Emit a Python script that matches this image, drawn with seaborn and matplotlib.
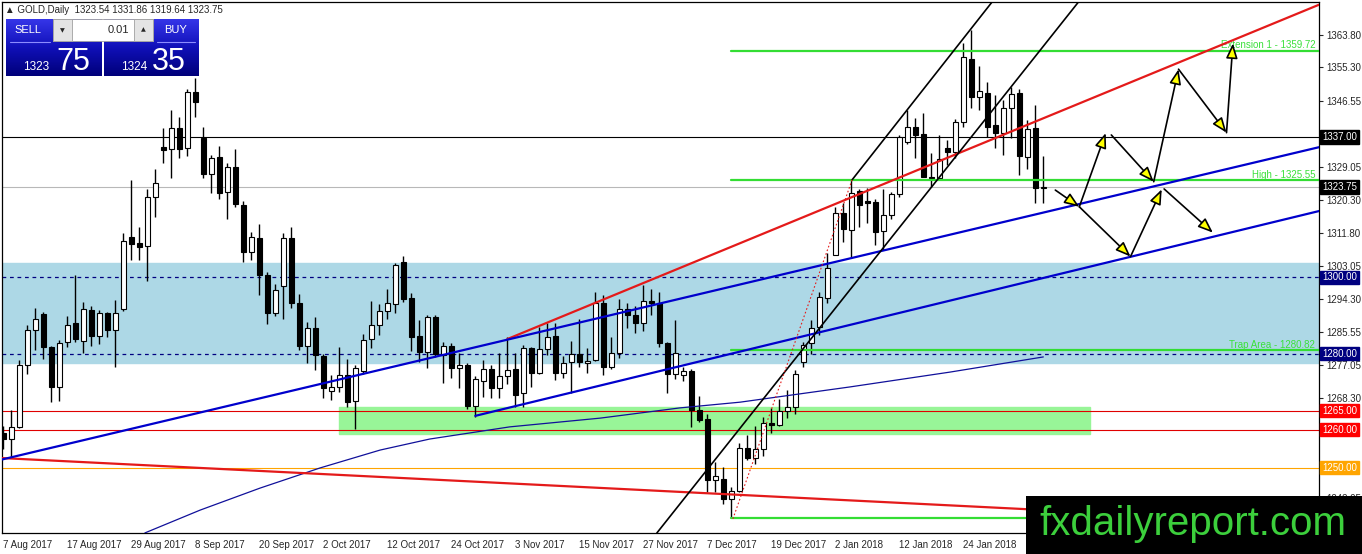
import matplotlib
matplotlib.use("Agg")
import matplotlib.pyplot as plt
from matplotlib.colors import LinearSegmentedColormap
from matplotlib.patches import Rectangle
import numpy as np
import pandas as pd
import seaborn as sns

# GOLD daily bars, 7 Aug 2017 onwards
opens = [1259.0, 1257.6, 1260.7, 1277.0, 1286.2, 1290.4, 1281.7, 1271.2, 1283.0, 1288.0,
         1283.3, 1291.4, 1284.6, 1290.7, 1286.2, 1291.7, 1310.7, 1309.1, 1308.3, 1321.2,
         1334.3, 1333.8, 1339.3, 1334.1, 1348.8, 1336.7, 1327.2, 1331.7, 1322.5, 1329.1,
         1319.1, 1306.7, 1310.4, 1300.7, 1290.7, 1297.8, 1310.4, 1293.3, 1282.0, 1286.7,
         1279.3, 1270.1, 1271.2, 1274.3, 1267.5, 1275.4, 1283.8, 1287.5, 1291.2, 1293.0,
         1304.1, 1294.6, 1284.6, 1280.4, 1289.6, 1279.6, 1282.0, 1276.2, 1277.0, 1266.2,
         1272.8, 1275.9, 1270.9, 1274.1, 1275.9, 1269.6, 1281.5, 1274.9, 1281.2, 1284.6,
         1274.9, 1277.8, 1279.9, 1277.5, 1278.3, 1293.3, 1276.5, 1280.1, 1291.7, 1290.1,
         1288.0, 1293.8, 1293.3, 1282.8, 1274.6, 1274.3, 1275.4, 1265.1, 1262.8, 1246.7,
         1247.0, 1241.7, 1243.8, 1255.1, 1252.5, 1254.9, 1261.7, 1261.2, 1264.9, 1265.9,
         1277.8, 1282.8, 1287.0, 1294.6, 1305.9, 1317.0, 1312.5, 1322.8, 1320.1, 1319.9,
         1312.2, 1316.5, 1322.0, 1335.7, 1339.6, 1337.8, 1326.4, 1326.2, 1334.1, 1333.0,
         1340.9, 1357.5, 1347.5, 1348.5, 1340.1, 1338.0, 1344.6, 1348.5, 1331.7, 1339.3,
         1323.54]
highs = [1261.0, 1265.1, 1278.3, 1287.5, 1292.0, 1290.8, 1282.0, 1283.6, 1289.9, 1300.7,
         1293.6, 1292.5, 1291.5, 1291.0, 1294.1, 1311.7, 1325.7, 1313.3, 1323.3, 1328.5,
         1339.3, 1344.1, 1342.2, 1349.6, 1352.5, 1339.6, 1332.2, 1334.6, 1330.1, 1333.8,
         1320.0, 1312.0, 1314.0, 1301.5, 1298.3, 1311.7, 1313.3, 1295.7, 1288.3, 1289.6,
         1280.0, 1274.3, 1281.7, 1278.6, 1277.0, 1285.1, 1293.8, 1293.0, 1297.0, 1303.8,
         1305.7, 1296.0, 1288.8, 1290.2, 1290.2, 1283.0, 1282.8, 1280.1, 1277.5, 1274.0,
         1278.3, 1277.0, 1280.1, 1284.3, 1280.1, 1282.2, 1281.6, 1287.0, 1288.0, 1288.0,
         1279.3, 1283.3, 1289.1, 1281.5, 1296.2, 1295.5, 1284.3, 1294.3, 1293.3, 1292.5,
         1298.0, 1297.0, 1296.2, 1283.0, 1288.8, 1276.5, 1276.0, 1268.8, 1264.1, 1251.5,
         1250.1, 1245.0, 1256.5, 1258.5, 1261.0, 1263.3, 1265.7, 1268.0, 1270.4, 1275.7,
         1283.0, 1288.8, 1296.2, 1306.4, 1318.6, 1319.6, 1325.7, 1323.3, 1323.5, 1320.6,
         1323.3, 1322.6, 1337.5, 1344.1, 1342.0, 1343.4, 1332.8, 1337.5, 1336.3, 1341.7,
         1361.7, 1365.1, 1355.7, 1351.4, 1348.0, 1346.7, 1350.1, 1349.6, 1341.4, 1345.4,
         1331.86]
lows = [1255.0, 1252.5, 1260.4, 1274.6, 1281.0, 1278.6, 1267.3, 1267.5, 1281.7, 1283.0,
        1280.1, 1282.0, 1282.5, 1284.3, 1276.5, 1291.2, 1304.6, 1304.6, 1299.1, 1315.9,
        1330.1, 1326.2, 1331.4, 1332.0, 1342.2, 1326.2, 1322.2, 1320.7, 1315.4, 1318.5,
        1304.1, 1304.6, 1295.4, 1287.8, 1290.0, 1289.1, 1292.0, 1281.0, 1277.5, 1275.7,
        1268.3, 1267.8, 1269.9, 1266.0, 1260.1, 1274.6, 1281.5, 1285.0, 1289.0, 1290.7,
        1293.5, 1280.7, 1277.8, 1276.2, 1279.0, 1272.2, 1273.6, 1270.9, 1265.4, 1263.3,
        1268.6, 1268.3, 1268.3, 1272.0, 1266.0, 1266.0, 1271.2, 1274.5, 1279.6, 1273.0,
        1273.6, 1269.6, 1276.5, 1275.0, 1278.0, 1274.3, 1276.0, 1278.8, 1286.7, 1285.4,
        1286.0, 1290.1, 1281.7, 1269.6, 1273.3, 1272.8, 1260.7, 1262.0, 1243.6, 1243.6,
        1240.5, 1236.7, 1243.5, 1252.0, 1251.0, 1253.0, 1259.0, 1260.9, 1263.0, 1264.0,
        1276.5, 1280.0, 1285.0, 1293.3, 1305.9, 1309.3, 1305.4, 1313.3, 1314.4, 1308.6,
        1307.3, 1315.4, 1321.2, 1335.0, 1331.4, 1326.4, 1323.8, 1325.7, 1329.5, 1331.5,
        1339.6, 1344.6, 1344.1, 1337.0, 1334.1, 1332.2, 1336.7, 1327.0, 1328.5, 1319.6,
        1319.64]
closes = [1257.5, 1260.7, 1277.0, 1286.2, 1289.1, 1281.7, 1271.2, 1282.8, 1287.5, 1283.8,
          1291.7, 1284.6, 1290.7, 1286.2, 1290.7, 1309.6, 1308.8, 1308.0, 1321.2, 1324.9,
          1333.5, 1339.3, 1333.8, 1348.8, 1346.2, 1327.2, 1331.4, 1322.2, 1329.1, 1319.3,
          1306.7, 1310.7, 1300.7, 1290.7, 1296.7, 1310.4, 1293.3, 1282.0, 1286.7, 1279.6,
          1270.9, 1271.2, 1274.3, 1267.3, 1276.2, 1283.6, 1287.5, 1291.2, 1293.3, 1303.3,
          1294.3, 1284.3, 1280.4, 1289.6, 1279.9, 1282.0, 1276.2, 1277.0, 1266.2, 1273.3,
          1275.9, 1270.9, 1274.1, 1275.7, 1269.1, 1281.5, 1274.9, 1281.2, 1284.3, 1274.9,
          1277.5, 1279.9, 1277.8, 1278.0, 1293.3, 1276.5, 1280.1, 1291.7, 1290.1, 1288.0,
          1293.8, 1293.3, 1282.8, 1274.6, 1280.1, 1275.4, 1265.1, 1262.5, 1246.7, 1247.8,
          1241.7, 1243.8, 1255.1, 1252.5, 1254.9, 1261.7, 1261.2, 1264.9, 1265.9, 1274.6,
          1282.2, 1286.7, 1294.9, 1302.5, 1317.0, 1312.8, 1322.2, 1319.1, 1319.6, 1312.0,
          1316.5, 1322.0, 1337.0, 1339.6, 1337.5, 1326.4, 1326.2, 1331.2, 1333.0, 1340.9,
          1358.0, 1347.5, 1349.1, 1339.6, 1338.0, 1344.6, 1348.3, 1332.0, 1339.1, 1323.6,
          1323.75]

date_labels = ["7 Aug 2017", "17 Aug 2017", "29 Aug 2017", "8 Sep 2017", "20 Sep 2017",
               "2 Oct 2017", "12 Oct 2017", "24 Oct 2017", "3 Nov 2017", "15 Nov 2017",
               "27 Nov 2017", "7 Dec 2017", "19 Dec 2017", "2 Jan 2018", "12 Jan 2018",
               "24 Jan 2018"]
date_bars = [0, 8, 16, 24, 32, 40, 48, 56, 64, 72, 80, 88, 96, 104, 112, 120]

# thin navy moving average
ma_bars = [17.7, 24.6, 32.1, 39.6, 47.1, 53.3, 63.3, 74.6, 84.6, 92.1, 105.8, 118.3, 130.0]
ma_vals = [1232.8, 1238.8, 1244.6, 1249.9, 1254.6, 1257.5, 1260.7, 1263.0, 1265.7, 1267.2,
           1271.2, 1275.1, 1279.1]

price_ticks = [1363.80, 1355.30, 1346.55, 1337.80, 1329.05, 1320.30, 1311.80, 1303.05,
               1294.30, 1285.55, 1277.05, 1268.30, 1259.55, 1250.80, 1242.05]
# tick labels that sit under a price tag in the reference
hidden_ticks = [1337.80, 1259.55, 1250.80]

# horizontal levels and drawn objects
zone_lo, zone_hi = 1277.6, 1303.8
box_bars, box_lo, box_hi = [42.0, 135.8], 1258.8, 1266.0
fib_start = 91.0
fib_levels = [1359.72, 1325.55, 1280.82, 1236.6]
fib_names = ["Extension 1 - 1359.72", "High - 1325.55", "Trap Area - 1280.82", ""]

red_up = ([63.0, 164.5], [1283.8, 1371.8])
red_down = ([-0.2, 164.5], [1252.5, 1235.2])
blue_a = ([-0.2, 164.5], [1252.1, 1334.3])
blue_b = ([59.0, 164.5], [1263.6, 1317.5])
black_lo = ([81.7, 134.4], [1232.8, 1372.5])
black_hi = ([106.1, 123.6], [1325.7, 1372.5])
fib_trend = ([91.2, 106.1], [1236.5, 1325.7])

# forecast path (start -> end)
arrows = [((131.5, 1323.0), (134.5, 1318.6)),
          ((134.5, 1318.6), (137.8, 1338.0)),
          ((138.5, 1337.5), (143.8, 1325.2)),
          ((143.8, 1325.2), (146.9, 1354.8)),
          ((146.9, 1354.8), (152.9, 1338.1)),
          ((152.9, 1338.1), (153.7, 1361.6)),
          ((134.5, 1318.6), (140.9, 1305.5)),
          ((140.9, 1305.5), (144.8, 1323.2)),
          ((145.1, 1323.3), (151.2, 1311.8))]

tags = [(1337.00, "#000000"), (1323.75, "#000000"), (1300.00, "#000080"),
        (1280.00, "#000080"), (1265.00, "#ff0000"), (1260.00, "#ff0000"),
        (1250.00, "#ffa500")]

sns.set_style("white")
plt.rcParams["font.family"] = ["Liberation Sans", "DejaVu Sans"]

df = pd.DataFrame({"o": opens, "h": highs, "l": lows, "c": closes})
df["bar"] = np.arange(len(df))

W, H = 1362, 554
fig = plt.figure(figsize=(W / 100, H / 100), dpi=100)
ax = fig.add_axes([2 / W, 21 / H, 1317 / W, 531 / H])
ax.set_xlim(-0.1625, 164.46)
ax.set_ylim(1232.78, 1372.48)

# background zones
ax.axhspan(zone_lo, zone_hi, color="#add8e6", zorder=0)
ax.add_patch(Rectangle((box_bars[0], box_lo), box_bars[1] - box_bars[0], box_hi - box_lo,
                       color="#98f598", zorder=0.5))

ax.axhline(1300, color="#000080", lw=0.9, ls=(0, (3, 3)), zorder=1)
ax.axhline(1280, color="#000080", lw=0.9, ls=(0, (3, 3)), zorder=1)
ax.axhline(1265, color="#e00000", lw=0.8, zorder=1)
ax.axhline(1260, color="#e00000", lw=0.8, zorder=1)
ax.axhline(1250, color="#ffa500", lw=0.8, zorder=1)
ax.axhline(1337, color="black", lw=0.8, zorder=1)
ax.axhline(1323.75, color="#b8b8b8", lw=0.8, zorder=1)

# candles
up = df[df.c >= df.o]
dn = df[df.c < df.o]
ax.vlines(df.bar, df.l, df.h, color="black", lw=1.0, zorder=2)
ax.bar(up.bar, (up.c - up.o).clip(lower=0.15), bottom=up.o, width=0.6,
       color="white", edgecolor="black", lw=0.8, zorder=3)
ax.bar(dn.bar, (dn.o - dn.c).clip(lower=0.15), bottom=dn.c, width=0.6,
       color="black", edgecolor="black", lw=0.8, zorder=3)

sns.lineplot(x=ma_bars, y=ma_vals, ax=ax, color="#10109a", lw=0.9, zorder=4)

# fibo levels
for lev, name in zip(fib_levels, fib_names):
    ax.plot([fib_start, 164.5], [lev, lev], color="#33dd33", lw=1.6, zorder=4)
    if name:
        ax.text(164.0, lev + 0.2, name, ha="right", va="bottom", fontsize=7,
                color="#3ae03a", zorder=5)

# trend lines
for seg, col, lw in [(red_up, "#e41a1a", 1.6), (red_down, "#e41a1a", 1.6),
                     (blue_a, "#0000cc", 1.6), (blue_b, "#0000cc", 1.6),
                     (black_lo, "black", 1.2), (black_hi, "black", 1.2)]:
    sns.lineplot(x=seg[0], y=seg[1], ax=ax, color=col, lw=lw, zorder=5)
ax.plot(fib_trend[0], fib_trend[1], color="#e41a1a", lw=0.8, ls=(0, (1.5, 2)), zorder=5)

for (x0, y0), (x1, y1) in arrows:
    ax.annotate("", xy=(x1, y1), xytext=(x0, y0), zorder=6,
                arrowprops=dict(arrowstyle="-|>,head_length=0.9,head_width=0.35",
                                fc="#ffff00", ec="black", lw=1.2,
                                shrinkA=0, shrinkB=0, mutation_scale=10))

# axes
for s in ax.spines.values():
    s.set_color("black")
    s.set_linewidth(0.9)
ax.yaxis.tick_right()
ax.set_yticks(price_ticks)
ax.set_yticklabels(["" if p in hidden_ticks else f"{p:.2f}" for p in price_ticks])
ax.set_xticks(date_bars)
ax.set_xticklabels(date_labels, ha="left")
ax.tick_params(axis="y", direction="out", length=3, width=0.8, pad=2, labelsize=7)
ax.tick_params(axis="x", direction="out", length=4, width=0.8, pad=1, labelsize=7)
ax.set_xlabel("")
ax.set_ylabel("")

ytr = ax.get_yaxis_transform()
for p, col in tags:
    ax.text(1 + 3 / 1317, p, f"{p:.2f}", transform=ytr, ha="left", va="center",
            fontsize=7, color="white", clip_on=False, zorder=7,
            bbox=dict(boxstyle="square,pad=0.2", fc=col, ec=col))

# overlay in pixel coordinates: title, trade panel, watermark
pa = fig.add_axes([0, 0, 1, 1], zorder=10)
pa.axis("off")
pa.text(5, 10, "▲ GOLD,Daily  1323.54 1331.86 1319.64 1323.75", fontsize=7,
        va="center", ha="left")

grad = np.linspace(0, 1, 64).reshape(-1, 1)
cmap = LinearSegmentedColormap.from_list("mt4", ["#3535e8", "#1010b8", "#00007a"])
for x0, x1 in [(6, 102), (104, 199)]:
    pa.imshow(grad, extent=[x0, x1, 76, 19], cmap=cmap, aspect="auto", zorder=1)
pa.add_patch(Rectangle((53, 19), 100, 22, fc="white", ec="#a0a0a0", lw=0.6, zorder=2))
pa.add_patch(Rectangle((53, 19), 19, 22, fc="#e4e4e4", ec="#a0a0a0", lw=0.6, zorder=2))
pa.add_patch(Rectangle((134, 19), 19, 22, fc="#e4e4e4", ec="#a0a0a0", lw=0.6, zorder=2))
pa.text(62.5, 30.5, "▼", fontsize=4.5, ha="center", va="center", family="DejaVu Sans", zorder=3)
pa.text(143.5, 30, "▲", fontsize=4.5, ha="center", va="center", family="DejaVu Sans", zorder=3)
pa.text(129, 30, "0.01", fontsize=8, ha="right", va="center", zorder=3)
pa.text(28, 30, "SELL", fontsize=8, ha="center", va="center", color="white", zorder=3)
pa.text(176, 30, "BUY", fontsize=8, ha="center", va="center", color="white", zorder=3)
pa.plot([10, 50], [42, 42], color="#8c8cff", lw=0.8, zorder=3)
pa.plot([157, 195], [42, 42], color="#8c8cff", lw=0.8, zorder=3)
pa.text(23, 70, "1323", fontsize=8.5, ha="left", va="baseline", color="white", zorder=3)
pa.text(56, 70, "75", fontsize=22, ha="left", va="baseline", color="white", zorder=3)
pa.text(121, 70, "1324", fontsize=8.5, ha="left", va="baseline", color="white", zorder=3)
pa.text(152, 70, "35", fontsize=22, ha="left", va="baseline", color="white", zorder=3)

pa.add_patch(Rectangle((1026, 496), 336, 58, fc="black", ec="none", zorder=4))
pa.text(1193, 535, "fxdailyreport.com", fontsize=29, ha="center", va="baseline",
        color="#3ccf3c", zorder=5)
pa.set_xlim(0, W)
pa.set_ylim(H, 0)

fig.savefig("out.png", dpi=100)
